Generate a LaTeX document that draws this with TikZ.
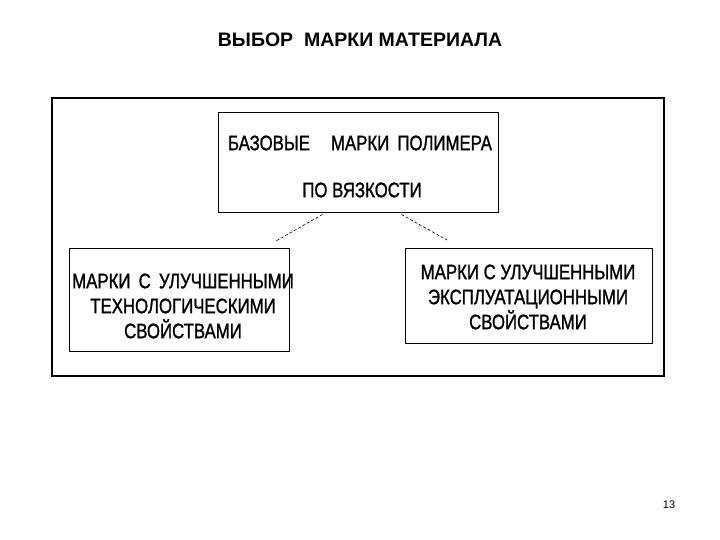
\documentclass[tikz,border=0pt]{standalone}
\usepackage{fontspec}
\setmainfont{Liberation Sans}
\newfontfamily\condf[FakeStretch=0.8,FakeBold=1.2]{Liberation Sans}
\begin{document}
\begin{tikzpicture}[x=1pt,y=-1pt,
  box/.style={draw,line width=1pt,inner sep=0pt},
  lbl/.style={font=\condf\fontsize{21}{25}\selectfont,align=center},
  link/.style={line width=0.6pt,densely dashed}]
\useasboundingbox (0,0) rectangle (720,540);
\node[font=\bfseries\fontsize{19.5}{22}\selectfont] (title) at (360,40) {ВЫБОР\ \ МАРКИ МАТЕРИАЛА};
\draw[line width=1.3pt] (52,98) rectangle (664,376);
\node[box,minimum width=280pt,minimum height=100pt] (top) at (358,163) {};
\node[lbl] (t1) at (360,143) {БАЗОВЫЕ\quad МАРКИ\, ПОЛИМЕРА};
\node[lbl] (t2) at (362,190) {ПО ВЯЗКОСТИ};
\node[box,minimum width=220pt,minimum height=103pt] (left) at (179,300) {};
\node[lbl] (l) at (183,306) {МАРКИ\, С\, УЛУЧШЕННЫМИ\\ТЕХНОЛОГИЧЕСКИМИ\\СВОЙСТВАМИ};
\node[box,minimum width=247pt,minimum height=95pt] (right) at (528.5,295.5) {};
\node[lbl] (r) at (528,297) {МАРКИ С УЛУЧШЕННЫМИ\\ЭКСПЛУАТАЦИОННЫМИ\\СВОЙСТВАМИ};
\coordinate (a1) at (276,241); \coordinate (a2) at (447,240);
\draw[link] (top.south west)++(105,1) -- (a1);
\draw[link] (top.south west)++(184,1) -- (a2);
\node[font=\fontsize{11}{13}\selectfont] (pg) at (669,505) {13};
\end{tikzpicture}
\end{document}
